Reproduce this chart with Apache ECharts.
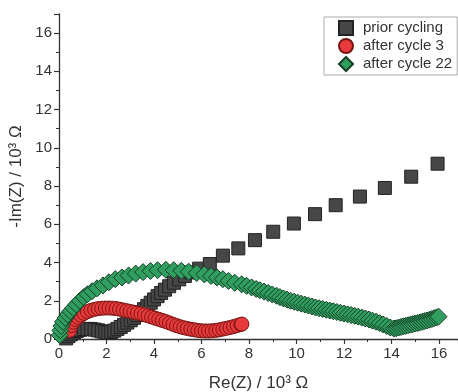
<!DOCTYPE html>
<html><head><meta charset="utf-8">
<script src="https://cdn.jsdelivr.net/npm/echarts@6/dist/echarts.min.js"></script>
<style>html,body{margin:0;padding:0;background:#fff}#c{width:458px;height:392px}</style>
</head><body><div id="c"></div>
<script>
var seriesNames = ['prior cycling', 'after cycle 3', 'after cycle 22'];
var xTicks = [0, 2, 4, 6, 8, 10, 12, 14, 16];
var yTicks = [0, 2, 4, 6, 8, 10, 12, 14, 16];
var priorCycling = [[0.3,0.03],[0.4,0.15],[0.5,0.25],[0.62,0.34],[0.75,0.42],[0.9,0.48],[1.05,0.52],[1.2,0.53],[1.35,0.52],[1.5,0.49],[1.65,0.45],[1.8,0.4],[1.95,0.36],[2.08,0.34],[2.2,0.37],[2.33,0.44],[2.46,0.53],[2.6,0.63],[2.74,0.74],[2.88,0.86],[3.02,0.98],[3.16,1.11],[3.3,1.25],[3.44,1.4],[3.58,1.56],[3.72,1.73],[3.86,1.9],[4.0,2.07],[4.15,2.24],[4.3,2.41],[4.46,2.58],[4.64,2.76],[4.84,2.94],[5.06,3.12],[5.3,3.3],[5.58,3.48],[5.9,3.68],[6.35,3.92],[6.9,4.36],[7.55,4.74],[8.25,5.17],[9.02,5.61],[9.89,6.04],[10.78,6.53],[11.65,7.0],[12.67,7.45],[13.72,7.9],[14.83,8.49],[15.94,9.17]];
var afterCycle3 = [[0.45,0.45],[0.52,0.7],[0.6,0.88],[0.7,1.02],[0.8,1.13],[0.92,1.24],[1.05,1.34],[1.2,1.43],[1.35,1.5],[1.5,1.55],[1.65,1.59],[1.8,1.61],[1.95,1.62],[2.1,1.62],[2.25,1.61],[2.4,1.59],[2.55,1.56],[2.7,1.52],[2.85,1.48],[3.0,1.44],[3.15,1.4],[3.3,1.36],[3.45,1.32],[3.6,1.27],[3.75,1.21],[3.9,1.15],[4.05,1.09],[4.2,1.03],[4.35,0.97],[4.5,0.91],[4.65,0.84],[4.8,0.77],[4.95,0.7],[5.1,0.64],[5.25,0.59],[5.4,0.55],[5.55,0.51],[5.7,0.48],[5.85,0.45],[6.0,0.43],[6.15,0.42],[6.3,0.42],[6.45,0.43],[6.6,0.45],[6.75,0.48],[6.9,0.52],[7.05,0.56],[7.2,0.6],[7.35,0.65],[7.5,0.7],[7.65,0.76],[7.7,0.78]];
var afterCycle22 = [[0.03,0.2],[0.06,0.45],[0.1,0.68],[0.17,0.9],[0.27,1.1],[0.37,1.28],[0.48,1.45],[0.6,1.62],[0.73,1.8],[0.88,2.0],[1.04,2.19],[1.2,2.34],[1.39,2.5],[1.6,2.65],[1.85,2.8],[2.1,2.97],[2.37,3.13],[2.65,3.22],[2.93,3.32],[3.23,3.42],[3.54,3.5],[3.85,3.56],[4.15,3.6],[4.5,3.62],[4.83,3.6],[5.15,3.57],[5.46,3.52],[5.8,3.45],[6.12,3.38],[6.4,3.3],[6.65,3.22],[6.9,3.13],[7.14,3.04],[7.4,2.94],[7.69,2.86],[7.9,2.78],[8.11,2.7],[8.3,2.62],[8.46,2.55],[8.63,2.48],[8.81,2.4],[8.98,2.33],[9.16,2.26],[9.3,2.19],[9.45,2.12],[9.6,2.06],[9.75,2.0],[9.9,1.95],[10.05,1.9],[10.2,1.85],[10.35,1.8],[10.5,1.75],[10.65,1.7],[10.8,1.65],[10.95,1.61],[11.1,1.57],[11.25,1.53],[11.4,1.49],[11.55,1.45],[11.7,1.41],[11.85,1.37],[12.0,1.33],[12.15,1.29],[12.3,1.25],[12.45,1.21],[12.6,1.17],[12.75,1.12],[12.9,1.07],[13.05,1.02],[13.2,0.96],[13.35,0.9],[13.5,0.83],[13.65,0.76],[13.8,0.68],[13.95,0.6],[14.1,0.55],[14.2,0.56],[14.3,0.6],[14.4,0.63],[14.5,0.66],[14.6,0.69],[14.7,0.72],[14.8,0.75],[14.9,0.78],[15.0,0.81],[15.1,0.84],[15.2,0.87],[15.3,0.9],[15.4,0.94],[15.5,0.97],[15.6,1.01],[15.7,1.05],[15.8,1.09],[15.9,1.13],[15.98,1.17]];

var chart = echarts.init(document.getElementById('c'), null, {renderer: 'canvas'});
var font = 'Liberation Sans, Arial, sans-serif';
function axisCommon() {
  return {
    axisLine: {show: true, onZero: false, lineStyle: {color: '#333', width: 1.3}},
    axisTick: {show: true, inside: false, length: 5, lineStyle: {color: '#333', width: 1.2}},
    minorTick: {show: true, splitNumber: 2, length: 3, lineStyle: {color: '#333', width: 1}},
    splitLine: {show: false},
    axisLabel: {color: '#333', fontSize: 15, fontFamily: font, margin: 7},
    nameTextStyle: {color: '#333', fontSize: 17, fontFamily: font}
  };
}
var xa = axisCommon();
Object.assign(xa, {type: 'value', min: 0, max: 16.8, interval: 2,
  name: 'Re(Z) / 10³ Ω', nameLocation: 'middle', nameGap: 36,
  axisLabel: Object.assign(xa.axisLabel, {formatter: function(v){return xTicks.indexOf(v) >= 0 ? String(v) : '';}})});
var ya = axisCommon();
Object.assign(ya, {type: 'value', min: 0, max: 17, interval: 2,
  name: '-Im(Z) / 10³ Ω', nameLocation: 'middle', nameGap: 32,
  axisLabel: Object.assign(ya.axisLabel, {formatter: function(v){return yTicks.indexOf(v) >= 0 ? String(v) : '';}})});

chart.setOption({
  animation: false,
  backgroundColor: '#fff',
  grid: {left: 59, top: 14, right: 0, bottom: 53, containLabel: false, outerBoundsMode: 'none'},
  xAxis: xa,
  yAxis: ya,
  legend: {
    left: 324, top: 17, orient: 'vertical',
    data: seriesNames,
    itemWidth: 14, itemHeight: 14, itemGap: 2,
    padding: [3, 5, 3, 14],
    borderColor: '#aaa', borderWidth: 1, borderRadius: 0,
    textStyle: {color: '#333', fontSize: 15, fontFamily: font, padding: [0, 0, 0, 5]}
  },
  series: [
    {name: seriesNames[0], type: 'scatter', symbol: 'rect', symbolSize: 13, data: priorCycling,
     itemStyle: {color: '#474747', borderColor: '#222', borderWidth: 1, opacity: 1}},
    {name: seriesNames[1], type: 'scatter', symbol: 'circle', symbolSize: 14, data: afterCycle3,
     itemStyle: {color: '#e83a3a', borderColor: '#7a1515', borderWidth: 1, opacity: 1}},
    {name: seriesNames[2], type: 'scatter', symbol: 'diamond', symbolSize: 17, data: afterCycle22,
     itemStyle: {color: '#2f9e5f', borderColor: '#163f26', borderWidth: 1, opacity: 1}}
  ]
});
</script></body></html>
